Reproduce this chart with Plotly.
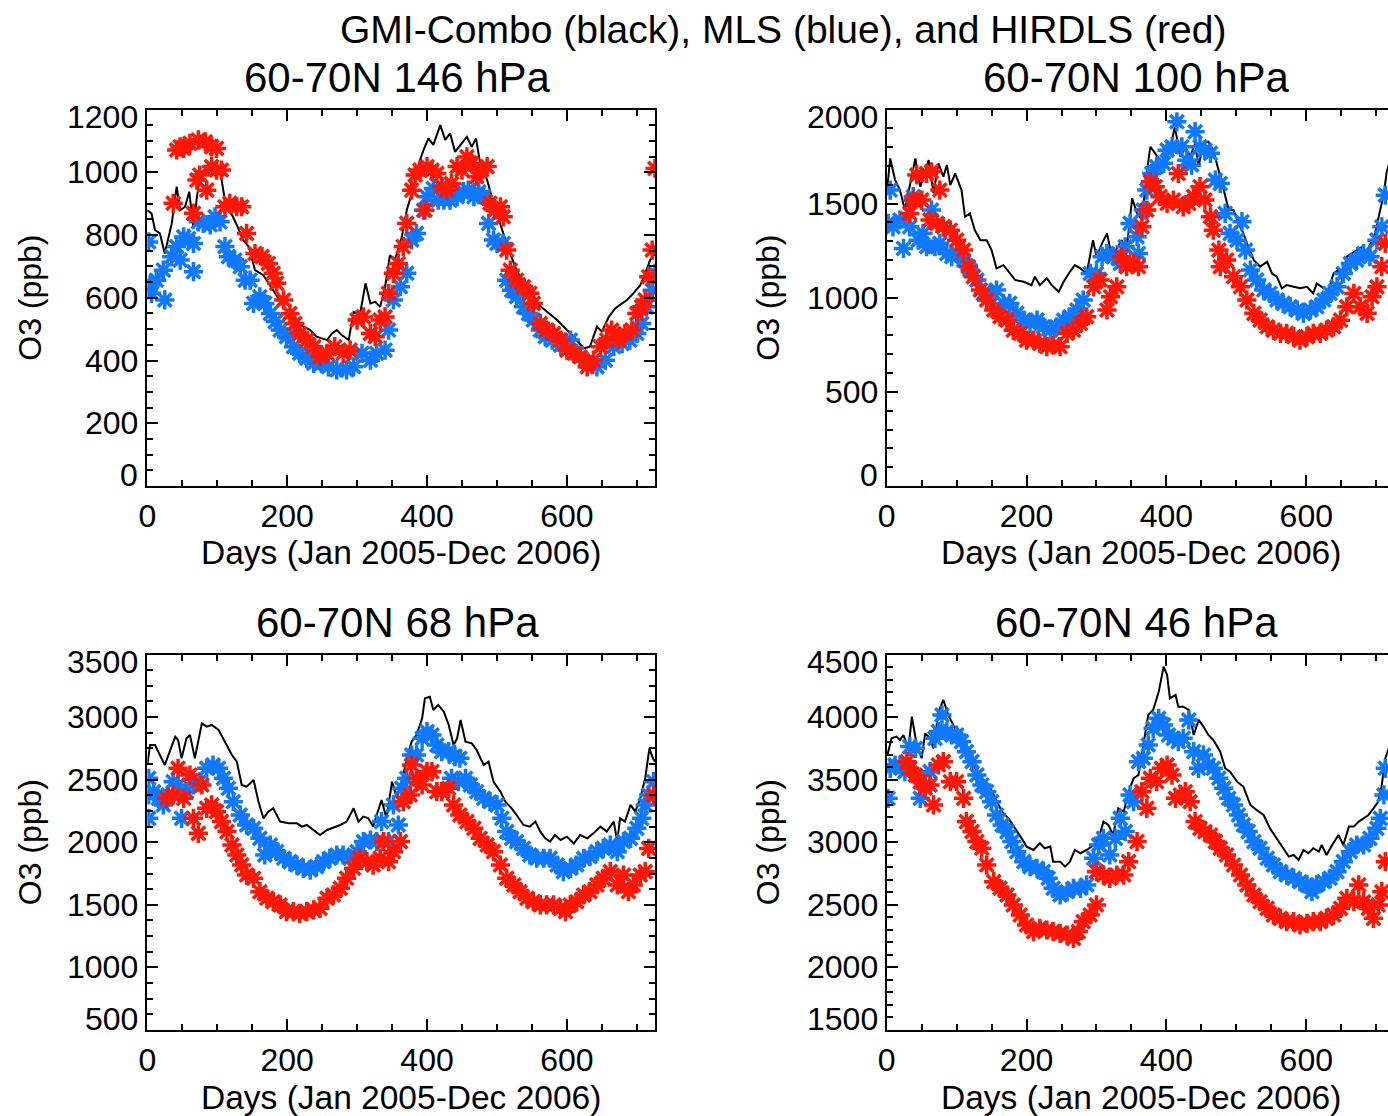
import plotly.graph_objects as go

# ---------------- text ----------------
MAIN_TITLE = "GMI-Combo (black), MLS (blue), and HIRDLS (red)"
PANEL_TITLES = ["60-70N 146 hPa", "60-70N 100 hPa", "60-70N 68 hPa", "60-70N 46 hPa"]
X_TITLE = "Days (Jan 2005-Dec 2006)"
Y_TITLE = "O3 (ppb)"

# ---------------- data: 146 hPa ----------------
p146_gmi_day = [0, 6, 11, 18, 25, 30, 35, 42, 47, 54, 60, 66, 71, 76, 83, 92, 104, 111, 118, 128, 137, 145, 154, 166,
                180, 195, 209, 223, 233, 242, 257, 264, 271, 278, 288, 295, 304, 312, 319, 326, 333, 340, 347, 354,
                364, 371, 381, 390, 395, 402, 409, 419, 426, 433, 440, 450, 457, 464, 470, 476, 486, 495, 507, 517,
                528, 543, 557, 571, 586, 600, 612, 624, 633, 643, 650, 660, 669, 679, 686, 695, 705, 712, 719, 726]
p146_gmi_o3 = [879, 869, 816, 805, 741, 794, 837, 954, 879, 890, 938, 821, 922, 996, 1002, 996, 1007, 911, 879, 832,
               784, 763, 688, 672, 624, 571, 529, 508, 497, 476, 465, 486, 497, 481, 465, 555, 545, 646, 582, 587,
               571, 635, 736, 720, 794, 879, 954, 1039, 1071, 1108, 1087, 1150, 1103, 1124, 1065, 1092, 1113, 1081,
               1108, 1028, 975, 901, 816, 752, 688, 624, 582, 555, 529, 497, 470, 439, 444, 508, 492, 539, 566, 582,
               593, 614, 640, 678, 720, 741]
p146_mls_day = [2, 4, 6, 13, 25, 23, 35, 42, 47, 52, 59, 66, 66, 73, 80, 90, 97, 104, 111, 116, 125, 133, 140, 147,
                152, 161, 168, 176, 183, 190, 199, 209, 218, 228, 238, 249, 259, 271, 285, 295, 307, 319, 328, 340,
                345, 352, 362, 371, 378, 385, 395, 400, 409, 416, 424, 433, 443, 452, 459, 467, 474, 481, 488, 495,
                500, 509, 514, 521, 528, 538, 545, 552, 562, 569, 579, 591, 605, 614, 629, 643, 655, 667, 679, 690,
                700, 707, 714, 722, 726]
p146_mls_o3 = [778, 640, 614, 656, 593, 688, 731, 763, 720, 794, 789, 773, 683, 842, 837, 832, 858, 842, 763, 731,
               720, 699, 656, 656, 582, 603, 582, 550, 524, 497, 476, 444, 423, 407, 391, 391, 380, 370, 370, 380,
               423, 401, 423, 433, 497, 593, 635, 678, 784, 805, 879, 922, 948, 911, 911, 911, 922, 938, 943, 922,
               938, 922, 837, 784, 773, 773, 656, 624, 603, 571, 550, 529, 497, 476, 465, 449, 465, 423, 396, 380,
               401, 444, 454, 465, 486, 518, 571, 624, 678]
p146_hir_day = [37, 42, 47, 52, 61, 66, 71, 73, 75, 83, 85, 92, 92, 99, 99, 106, 111, 118, 128, 135, 142, 154, 164,
                173, 180, 185, 195, 204, 211, 218, 228, 238, 247, 257, 268, 280, 290, 300, 309, 319, 326, 333, 340,
                345, 352, 359, 366, 371, 378, 383, 390, 397, 400, 407, 414, 421, 428, 435, 443, 450, 457, 464, 471,
                478, 486, 490, 497, 505, 509, 514, 519, 528, 538, 547, 552, 562, 571, 581, 591, 600, 610, 619, 629,
                638, 648, 657, 664, 674, 683, 693, 700, 707, 712, 717, 722, 726]
p146_hir_o3 = [901, 1071, 1081, 1076, 1092, 869, 975, 1103, 991, 1097, 943, 1081, 1018, 1076, 1007, 1007, 890, 901,
               890, 890, 805, 741, 731, 709, 678, 646, 593, 550, 518, 486, 465, 444, 412, 423, 444, 423, 433, 529,
               539, 486, 476, 529, 539, 614, 678, 709, 763, 837, 943, 991, 1007, 879, 1018, 1007, 996, 954, 943, 964,
               1018, 1007, 1049, 1028, 986, 1007, 1018, 901, 879, 890, 858, 752, 688, 656, 635, 614, 582, 518, 497,
               486, 465, 433, 423, 412, 380, 401, 444, 465, 497, 465, 486, 497, 550, 571, 593, 667, 752, 1012]

# ---------------- data: 100 hPa ----------------
p100_gmi_day = [1, 5, 12, 19, 26, 33, 41, 48, 55, 60, 67, 74, 81, 86, 91, 98, 107, 112, 119, 126, 134, 143, 150, 157,
                167, 176, 184, 196, 207, 212, 219, 229, 236, 246, 253, 262, 269, 277, 286, 295, 300, 308, 315, 322,
                329, 336, 343, 351, 358, 365, 372, 377, 384, 391, 398, 405, 412, 420, 427, 434, 441, 446, 453, 460,
                467, 475, 482, 489, 496, 503, 510, 517, 525, 534, 544, 551, 558, 565, 572, 582, 591, 601, 610, 615,
                625, 632, 639, 646, 651, 658, 665, 672, 680, 684, 692, 696, 703, 711, 715, 720, 727]
p100_gmi_o3 = [1590, 1740, 1625, 1572, 1466, 1590, 1740, 1590, 1669, 1731, 1554, 1714, 1643, 1705, 1598, 1660, 1572,
               1430, 1448, 1359, 1306, 1306, 1253, 1156, 1173, 1129, 1094, 1085, 1067, 1112, 1067, 1103, 1067, 1032,
               1085, 1138, 1173, 1156, 1129, 1306, 1218, 1289, 1342, 1218, 1262, 1306, 1253, 1528, 1448, 1413, 1669,
               1802, 1767, 1722, 1740, 1784, 1908, 1749, 1802, 1749, 1820, 1696, 1829, 1829, 1784, 1678, 1572, 1466,
               1466, 1395, 1342, 1271, 1200, 1165, 1191, 1129, 1112, 1050, 1067, 1058, 1050, 1058, 1023, 1076, 1050,
               1041, 1129, 1147, 1094, 1218, 1235, 1253, 1271, 1218, 1289, 1306, 1430, 1554, 1669, 1731, 1760]
p100_mls_day = [2, 5, 9, 19, 24, 33, 38, 45, 52, 57, 64, 69, 76, 86, 93, 100, 110, 119, 129, 138, 148, 157, 167, 176,
                186, 196, 205, 215, 224, 234, 243, 253, 262, 272, 281, 291, 300, 308, 315, 324, 334, 341, 348, 358,
                360, 367, 372, 379, 386, 396, 401, 408, 415, 422, 429, 436, 441, 448, 455, 463, 470, 477, 484, 491,
                501, 508, 513, 520, 529, 539, 548, 558, 567, 577, 587, 596, 606, 615, 625, 634, 644, 653, 663, 672,
                682, 691, 701, 708, 713]
p100_mls_o3 = [1395, 1572, 1377, 1413, 1262, 1377, 1537, 1306, 1342, 1271, 1466, 1271, 1289, 1235, 1218, 1235, 1200,
               1147, 1094, 1023, 1023, 1041, 970, 970, 917, 881, 864, 881, 846, 828, 846, 881, 899, 935, 988, 1129,
               1129, 1218, 1235, 1218, 1182, 1271, 1395, 1324, 1235, 1466, 1572, 1660, 1696, 1714, 1784, 1802, 1935,
               1802, 1731, 1705, 1882, 1802, 1784, 1767, 1625, 1607, 1448, 1342, 1306, 1404, 1253, 1147, 1094, 1041,
               1023, 988, 970, 952, 935, 917, 935, 952, 988, 1023, 1058, 1129, 1182, 1200, 1235, 1218, 1306, 1377,
               1545]
p100_hir_day = [33, 38, 43, 50, 57, 64, 76, 62, 72, 81, 91, 100, 110, 117, 124, 134, 143, 153, 162, 172, 181, 191,
                200, 210, 219, 229, 238, 248, 258, 267, 277, 286, 296, 305, 315, 320, 329, 336, 343, 353, 360, 365,
                372, 377, 384, 391, 401, 410, 417, 424, 432, 439, 448, 455, 463, 467, 475, 477, 486, 496, 506, 515,
                525, 534, 544, 553, 563, 572, 582, 591, 601, 610, 620, 629, 639, 649, 658, 668, 677, 687, 694, 701,
                708, 713]
p100_hir_o3 = [1448, 1519, 1652, 1519, 1660, 1669, 1572, 1413, 1395, 1377, 1359, 1306, 1253, 1165, 1112, 1041, 988,
               935, 899, 881, 828, 811, 775, 775, 757, 740, 749, 740, 811, 828, 864, 899, 1058, 1094, 935, 1005, 1058,
               1218, 1165, 1182, 1165, 1377, 1466, 1616, 1590, 1537, 1501, 1519, 1660, 1483, 1501, 1537, 1590, 1519,
               1430, 1359, 1253, 1165, 1200, 1112, 1058, 988, 917, 881, 846, 828, 811, 811, 793, 775, 793, 811, 811,
               828, 846, 881, 952, 1023, 952, 917, 1005, 1058, 1165, 1289]

# ---------------- data: 68 hPa ----------------
p68_gmi_day = [0, 4, 11, 18, 25, 32, 40, 44, 49, 56, 61, 68, 78, 85, 92, 102, 111, 121, 128, 135, 142, 152, 159, 166,
               173, 180, 190, 202, 214, 221, 228, 238, 247, 257, 269, 276, 285, 295, 302, 309, 316, 323, 328, 335,
               342, 350, 357, 364, 371, 378, 385, 393, 397, 404, 409, 416, 424, 431, 438, 443, 448, 455, 464, 471,
               481, 488, 495, 505, 512, 521, 528, 538, 547, 555, 562, 569, 576, 583, 591, 600, 610, 619, 629, 638,
               648, 657, 667, 672, 676, 683, 691, 698, 705, 712, 718, 723, 726]
p68_gmi_o3 = [2617, 2777, 2777, 2697, 2617, 2724, 2844, 2817, 2671, 2830, 2857, 2671, 2950, 2924, 2937, 2897, 2804,
              2697, 2644, 2458, 2444, 2498, 2324, 2191, 2244, 2271, 2165, 2151, 2151, 2125, 2138, 2098, 2058, 2098,
              2125, 2138, 2165, 2271, 2165, 2205, 2191, 2125, 2218, 2338, 2191, 2484, 2351, 2484, 2671, 2804, 2857,
              2990, 3150, 3163, 3057, 3097, 3043, 2937, 2777, 2830, 2977, 2804, 2790, 2737, 2617, 2644, 2484, 2404,
              2324, 2271, 2218, 2138, 2125, 2165, 2085, 2031, 2005, 2058, 2018, 2045, 1991, 2058, 2031, 2071, 2125,
              2085, 2165, 2005, 2191, 2165, 2298, 2244, 2351, 2511, 2750, 2671, 2644]
p68_mls_day = [2, 2, 2, 9, 16, 23, 30, 37, 44, 49, 56, 66, 75, 85, 94, 102, 109, 116, 123, 133, 142, 152, 161, 168,
               176, 185, 195, 204, 214, 223, 233, 242, 252, 261, 271, 280, 290, 300, 309, 319, 328, 335, 345, 352,
               359, 364, 371, 378, 385, 393, 400, 407, 414, 421, 431, 440, 447, 435, 445, 455, 462, 471, 481, 490,
               500, 507, 514, 521, 528, 538, 547, 557, 567, 576, 586, 595, 605, 614, 624, 633, 643, 652, 662, 672,
               681, 691, 700, 707, 712, 717, 724]
p68_mls_o3 = [2511, 2378, 2191, 2404, 2351, 2298, 2378, 2484, 2458, 2191, 2404, 2458, 2484, 2591, 2617, 2591, 2511,
              2431, 2324, 2218, 2138, 2111, 2031, 1898, 1978, 1925, 1872, 1845, 1818, 1792, 1778, 1805, 1845, 1872,
              1898, 1898, 1872, 1925, 2005, 2018, 2005, 2165, 2005, 2298, 2138, 2431, 2511, 2697, 2697, 2830, 2884,
              2857, 2777, 2724, 2724, 2684, 2671, 2511, 2484, 2511, 2458, 2404, 2351, 2324, 2298, 2191, 2085, 2031,
              2005, 1951, 1898, 1872, 1872, 1872, 1818, 1765, 1792, 1818, 1872, 1885, 1925, 1951, 1978, 1925, 2005,
              2031, 2111, 2191, 2298, 2378, 2484]
p68_hir_day = [28, 37, 44, 52, 61, 66, 73, 78, 85, 92, 99, 106, 114, 121, 128, 135, 142, 152, 161, 171, 180, 190, 199,
               209, 218, 228, 238, 247, 257, 266, 276, 285, 295, 304, 314, 323, 333, 338, 345, 352, 362, 366, 376,
               378, 385, 393, 400, 407, 414, 421, 431, 438, 447, 457, 467, 476, 486, 495, 505, 514, 524, 533, 543,
               552, 562, 571, 581, 591, 598, 605, 614, 624, 633, 643, 652, 662, 672, 681, 688, 695, 705, 712, 717,
               724]
p68_hir_o3 = [2351, 2378, 2591, 2351, 2537, 2191, 2071, 2458, 2271, 2298, 2244, 2165, 2085, 1978, 1898, 1818, 1738,
              1712, 1605, 1552, 1525, 1499, 1446, 1446, 1432, 1446, 1459, 1472, 1552, 1579, 1632, 1712, 1792, 1872,
              1845, 1818, 1872, 2005, 1845, 1925, 2005, 2324, 2378, 2617, 2511, 2458, 2564, 2564, 2404, 2404, 2431,
              2298, 2218, 2165, 2111, 2031, 1978, 1925, 1818, 1712, 1659, 1605, 1552, 1525, 1499, 1499, 1499, 1472,
              1446, 1499, 1525, 1579, 1605, 1659, 1712, 1765, 1659, 1738, 1605, 1659, 1738, 1765, 1951, 2378]

# ---------------- data: 46 hPa ----------------
p46_gmi_day = [1, 7, 14, 19, 24, 31, 36, 43, 50, 55, 62, 67, 74, 81, 88, 98, 107, 117, 126, 136, 146, 155, 165, 174,
               184, 193, 200, 210, 219, 226, 234, 238, 248, 255, 262, 269, 277, 286, 296, 303, 310, 317, 324, 331,
               339, 346, 353, 360, 367, 374, 381, 389, 396, 401, 405, 413, 417, 424, 432, 439, 446, 453, 460, 467,
               477, 484, 491, 501, 510, 520, 529, 539, 548, 558, 567, 575, 582, 589, 596, 603, 610, 618, 622, 629,
               637, 646, 653, 661, 668, 675, 682, 689, 696, 703, 708, 713, 718]
p46_gmi_o3 = [3697, 3830, 3844, 3817, 3857, 3750, 4003, 3777, 3671, 3870, 3830, 3750, 4043, 4137, 4017, 3910, 3804,
              3697, 3591, 3511, 3458, 3351, 3245, 3191, 3111, 3031, 2965, 2938, 2992, 2952, 2965, 2845, 2845, 2805,
              2845, 2938, 2912, 2938, 2978, 3031, 3165, 3138, 3058, 3271, 3245, 3404, 3511, 3537, 3777, 4017, 4057,
              4203, 4403, 4336, 4150, 4177, 4083, 4083, 4057, 3857, 3977, 3924, 3857, 3817, 3724, 3591, 3564, 3484,
              3444, 3298, 3258, 3218, 3111, 3031, 2952, 2885, 2898, 2858, 2938, 2912, 2952, 2925, 2978, 2898, 2978,
              3058, 2978, 3125, 3125, 3165, 3191, 3218, 3271, 3324, 3458, 3671, 3750]
p46_mls_day = [2, 5, 12, 19, 26, 33, 41, 48, 55, 62, 69, 74, 79, 86, 93, 100, 107, 114, 122, 129, 136, 143, 150, 157,
               165, 172, 179, 186, 196, 205, 215, 224, 231, 238, 248, 258, 267, 277, 286, 296, 303, 310, 319, 327,
               334, 341, 348, 353, 360, 367, 374, 381, 389, 396, 403, 410, 417, 424, 432, 439, 446, 453, 460, 467,
               475, 482, 489, 496, 503, 510, 517, 525, 534, 544, 553, 563, 572, 582, 591, 601, 608, 615, 625, 634,
               644, 653, 663, 672, 682, 691, 701, 706, 711, 713]
p46_mls_o3 = [3351, 3591, 3617, 3617, 3564, 3764, 3750, 3351, 3458, 3564, 3830, 3884, 4017, 3884, 3857, 3857, 3804,
              3724, 3644, 3537, 3458, 3404, 3324, 3218, 3138, 3085, 3005, 2925, 2845, 2805, 2792, 2765, 2712, 2632,
              2579, 2605, 2632, 2632, 2659, 2872, 2978, 3031, 2898, 3031, 3191, 3085, 3378, 3324, 3644, 3671, 3777,
              3910, 3990, 3937, 3857, 3830, 3804, 3830, 3977, 3724, 3591, 3697, 3617, 3591, 3511, 3431, 3351, 3298,
              3218, 3138, 3085, 3005, 2952, 2872, 2818, 2765, 2738, 2712, 2685, 2659, 2605, 2659, 2685, 2712, 2765,
              2845, 2925, 2978, 2978, 3031, 3111, 3191, 3378, 3591]
p46_hir_day = [29, 33, 41, 48, 55, 62, 67, 74, 81, 91, 100, 110, 114, 122, 129, 136, 143, 153, 162, 172, 181, 191,
               200, 210, 219, 229, 238, 248, 258, 267, 274, 281, 291, 300, 300, 310, 319, 329, 339, 346, 358, 365,
               372, 377, 386, 393, 401, 408, 413, 420, 427, 434, 441, 448, 455, 463, 470, 477, 486, 496, 506, 515,
               525, 534, 544, 553, 563, 572, 582, 591, 601, 610, 620, 629, 639, 649, 658, 668, 675, 682, 689, 696,
               703, 708, 713]
p46_hir_o3 = [3644, 3591, 3537, 3484, 3431, 3458, 3298, 3617, 3644, 3484, 3484, 3351, 3165, 3085, 3005, 2952, 2818,
              2685, 2632, 2579, 2499, 2419, 2339, 2286, 2312, 2299, 2286, 2272, 2259, 2232, 2286, 2366, 2419, 2499,
              2765, 2738, 2712, 2738, 2738, 2845, 3005, 3404, 3271, 3511, 3484, 3591, 3617, 3537, 3351, 3378, 3404,
              3324, 3165, 3111, 3085, 3058, 3005, 2952, 2898, 2818, 2738, 2659, 2579, 2525, 2472, 2419, 2392, 2366,
              2366, 2339, 2352, 2366, 2366, 2392, 2419, 2472, 2552, 2525, 2659, 2525, 2472, 2392, 2499, 2605, 2845]

# ---------------- axes ----------------
X_TICK_STEP = 200
X_MINOR_STEP = 50
Y_RANGES = [[0, 1200], [0, 2000], [500, 3500], [1500, 4500]]
Y_TICK_STEPS = [200, 500, 500, 500]
Y_MINOR_STEPS = [50, 100, 125, 100]
Y_TICK_LABELS = [
    [0, 200, 400, 600, 800, 1000, 1200],
    [0, 500, 1000, 1500, 2000],
    [500, 1000, 1500, 2000, 2500, 3000, 3500],
    [1500, 2000, 2500, 3000, 3500, 4000, 4500],
]

GMI_COLOR = "black"
MLS_COLOR = "rgb(15,120,255)"
HIR_COLOR = "rgb(255,22,5)"
FONT = "Liberation Sans, Arial, Helvetica, sans-serif"

W, H = 1388, 1116
# panel frames in pixels (left, right, top, bottom); right column runs off the page
LEFT_X = (147.3, 655.0)
RIGHT_X0 = 886.7
TOP_Y = (109.5, 486.0)
BOT_Y = (654.5, 1030.0)
X_MAX_LEFT = 726.0
px_per_day = (LEFT_X[1] - LEFT_X[0]) / X_MAX_LEFT
X_MAX_RIGHT = (W - RIGHT_X0) / px_per_day

panels = [
    (p146_gmi_day, p146_gmi_o3, p146_mls_day, p146_mls_o3, p146_hir_day, p146_hir_o3),
    (p100_gmi_day, p100_gmi_o3, p100_mls_day, p100_mls_o3, p100_hir_day, p100_hir_o3),
    (p68_gmi_day, p68_gmi_o3, p68_mls_day, p68_mls_o3, p68_hir_day, p68_hir_o3),
    (p46_gmi_day, p46_gmi_o3, p46_mls_day, p46_mls_o3, p46_hir_day, p46_hir_o3),
]

fig = go.Figure()
for i, (gd, gv, md, mv, hd, hv) in enumerate(panels):
    xa = "x" if i == 0 else f"x{i+1}"
    ya = "y" if i == 0 else f"y{i+1}"
    fig.add_trace(go.Scatter(x=gd, y=gv, mode="lines", line=dict(color=GMI_COLOR, width=2),
                             xaxis=xa, yaxis=ya, showlegend=False, hoverinfo="skip"))
    for d, v, c in ((md, mv, MLS_COLOR), (hd, hv, HIR_COLOR)):
        fig.add_trace(go.Scatter(x=d, y=v, mode="markers",
                                 marker=dict(symbol="asterisk-open", size=16, color=c,
                                             line=dict(color=c, width=3.5)),
                                 xaxis=xa, yaxis=ya, showlegend=False, hoverinfo="skip"))

tickfont = dict(family=FONT, size=32, color="black")
layout = dict(width=W, height=H, margin=dict(l=0, r=0, t=0, b=0, pad=0, autoexpand=False),
              paper_bgcolor="white", plot_bgcolor="white", showlegend=False)

annotations = []
for i in range(4):
    col = i % 2
    row = i // 2
    if col == 0:
        xd = [LEFT_X[0] / W, LEFT_X[1] / W]
        xr = [0, X_MAX_LEFT]
    else:
        xd = [RIGHT_X0 / W, 1.0]
        xr = [0, X_MAX_RIGHT]
    ypx = TOP_Y if row == 0 else BOT_Y
    yd = [1 - ypx[1] / H, 1 - ypx[0] / H]
    sfx = "" if i == 0 else str(i + 1)
    layout["xaxis" + sfx] = dict(
        domain=xd, range=xr, anchor="y" + sfx, tickmode="linear", tick0=0, dtick=X_TICK_STEP,
        ticks="inside", ticklen=11, tickwidth=2, tickcolor="black",
        showline=True, linecolor="black", linewidth=2, mirror="ticks",
        showgrid=False, zeroline=False, tickfont=tickfont, ticklabelstandoff=1,
        minor=dict(tick0=0, dtick=X_MINOR_STEP, ticks="inside", ticklen=6, tickwidth=2,
                   tickcolor="black", showgrid=False))
    layout["yaxis" + sfx] = dict(
        domain=yd, range=Y_RANGES[i], anchor="x" + sfx, tickmode="linear",
        tick0=Y_RANGES[i][0], dtick=Y_TICK_STEPS[i], showticklabels=False,
        ticks="inside", ticklen=11, tickwidth=2, tickcolor="black",
        showline=True, linecolor="black", linewidth=2, mirror="ticks" if col == 0 else False,
        showgrid=False, zeroline=False,
        minor=dict(tick0=Y_RANGES[i][0], dtick=Y_MINOR_STEPS[i], ticks="inside", ticklen=6, tickwidth=2,
                   tickcolor="black", showgrid=False))
    # y tick labels (end labels are nudged inside the frame, as in the original)
    lab_x = (xd[0] * W - 7) / W
    labels = Y_TICK_LABELS[i]
    for k, val in enumerate(labels):
        shift = 0
        if k == 0:
            shift = 11
        elif k == len(labels) - 1:
            shift = -7
        annotations.append(dict(text=str(val), x=lab_x, xref="paper", y=val, yref="y" + sfx,
                                xanchor="right", yanchor="middle", yshift=shift, showarrow=False,
                                font=tickfont))

annotations.append(dict(text=MAIN_TITLE, x=782.5 / W, y=1 - 30 / H, xref="paper", yref="paper",
                        xanchor="center", yanchor="middle", showarrow=False,
                        font=dict(family=FONT, size=39, color="black")))
centers_x = [(LEFT_X[0] + LEFT_X[1]) / 2, RIGHT_X0 + (LEFT_X[1] - LEFT_X[0]) / 2]
title_y = [78, 622]
xtitle_y = [552, 1097]
ytitle_x = [30, 768]
ytitle_y = [(TOP_Y[0] + TOP_Y[1]) / 2, (BOT_Y[0] + BOT_Y[1]) / 2]
for i in range(4):
    col, row = i % 2, i // 2
    annotations.append(dict(text=PANEL_TITLES[i], x=(centers_x[col] - 4) / W, y=1 - title_y[row] / H,
                            xref="paper", yref="paper", xanchor="center", yanchor="middle",
                            showarrow=False, font=dict(family=FONT, size=42, color="black")))
    annotations.append(dict(text=X_TITLE, x=centers_x[col] / W, y=1 - xtitle_y[row] / H,
                            xref="paper", yref="paper", xanchor="center", yanchor="middle",
                            showarrow=False, font=dict(family=FONT, size=33.5, color="black")))
    annotations.append(dict(text=Y_TITLE, x=ytitle_x[col] / W, y=1 - ytitle_y[row] / H, textangle=-90,
                            xref="paper", yref="paper", xanchor="center", yanchor="middle",
                            showarrow=False, font=dict(family=FONT, size=32, color="black")))
layout["annotations"] = annotations
fig.update_layout(**layout)

fig.write_html("out.html", config={"displayModeBar": False},
               post_script="document.body.style.margin='0px';document.body.style.overflow='hidden';")
